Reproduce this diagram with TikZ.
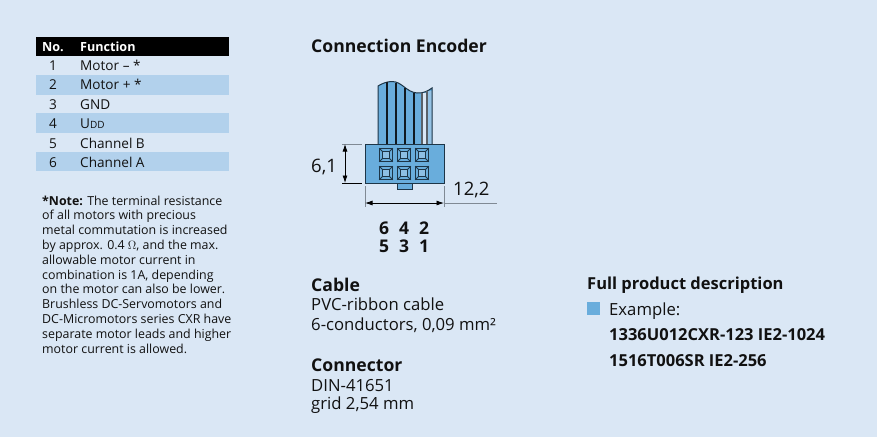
\documentclass[tikz,border=0pt]{standalone}
\usepackage{fontspec}
\setmainfont{Open Sans}
\usetikzlibrary{arrows.meta}
\definecolor{bgc}{HTML}{DAE7F5}
\definecolor{rowc}{HTML}{B2D1EC}
\definecolor{bodyc}{HTML}{69ADDC}
\definecolor{darkl}{HTML}{1D3547}
\definecolor{txt}{HTML}{111111}
\definecolor{grayl}{HTML}{808A94}
\tikzset{
 lbl/.style={anchor=base west,inner sep=0pt,text=txt,font=\fontsize{13.6}{15}\selectfont},
 num/.style={anchor=base,inner sep=0pt,text=txt,font=\fontsize{13.6}{15}\selectfont},
 hdr/.style={anchor=base west,inner sep=0pt,text=white,font=\fontsize{12.6}{14}\selectfont\bfseries},
 note/.style={anchor=base west,inner sep=0pt,text=txt,font=\fontsize{12.4}{14}\selectfont},
 big/.style={anchor=base west,inner sep=0pt,text=txt,font=\fontsize{16.7}{19}\selectfont},
 bighead/.style={anchor=base west,inner sep=0pt,text=txt,font=\fontsize{17.6}{20}\selectfont\bfseries},
 boldt/.style={anchor=base west,inner sep=0pt,text=txt,font=\fontsize{16.5}{19}\selectfont\bfseries},
 pin/.style={anchor=base,inner sep=0pt,text=txt,font=\fontsize{17.5}{20}\selectfont\bfseries},
 dimt/.style={anchor=base west,inner sep=0pt,text=txt,font=\fontsize{18.5}{21}\selectfont},
 wire/.style={line width=1.2pt,draw=black!85!bodyc},
 dimarrow/.style={line width=.8pt,draw=black,{Latex[length=7.5pt,width=5pt]}-{Latex[length=7.5pt,width=5pt]}},
 ext/.style={line width=1pt,draw=grayl},
 extb/.style={line width=1pt,draw=black},
}
\newcommand{\socket}[2]{%
 \draw[line width=1pt,draw=darkl,fill=bodyc] (#1-6.8,#2-6.8) rectangle (#1+6.8,#2+6.8);
 \draw[line width=1pt,draw=darkl,fill=rowc!50!bodyc] (#1-3.5,#2-3.5) rectangle (#1+3.5,#2+3.5);
 \draw[line width=.8pt,draw=darkl] (#1-6.8,#2-6.8)--(#1-3.5,#2-3.5) (#1+6.8,#2-6.8)--(#1+3.5,#2-3.5) (#1-6.8,#2+6.8)--(#1-3.5,#2+3.5) (#1+6.8,#2+6.8)--(#1+3.5,#2+3.5);
}
\begin{document}
\begin{tikzpicture}[x=1pt,y=-1pt]
\useasboundingbox (0,0) rectangle (877,437);
\fill[bgc] (0,0) rectangle (877,437);
% table
\fill[black] (36,37) rectangle (229,56);
\fill[rowc] (36,75) rectangle (229,95);
\fill[rowc] (36,113) rectangle (229,133);
\fill[rowc] (36,152) rectangle (229,171);
\node[hdr] (hno) at (42,51) {No.};
\node[hdr] (hfn) at (80,51) {Function};
\node[num] (n1) at (53,70) {1};
\node[lbl] (f1) at (80,70) {Motor – *};
\node[num] (n2) at (53,89) {2};
\node[lbl] (f2) at (80,89) {Motor + *};
\node[num] (n3) at (53,109) {3};
\node[lbl] (f3) at (80,109) {GND};
\node[num] (n4) at (53,128) {4};
\node[lbl] (f4) at (80,128) {U\fontsize{10}{11}\selectfont DD};
\node[num] (n5) at (53,148) {5};
\node[lbl] (f5) at (80,148) {Channel B};
\node[num] (n6) at (53,167) {6};
\node[lbl] (f6) at (80,167) {Channel A};
% note
\node[note] (t1) at (42,205) {\textbf{*Note:} The terminal resistance};
\node[note] (t2) at (42,219.8) {of all motors with precious};
\node[note] (t3) at (42,234.6) {metal commutation is increased};
\node[note] (t4) at (42,249.4) {by approx. 0.4 $\Omega$, and the max.};
\node[note] (t5) at (42,264.2) {allowable motor current in};
\node[note] (t6) at (42,279) {combination is 1A, depending};
\node[note] (t7) at (42,293.8) {on the motor can also be lower.};
\node[note] (t8) at (42,308.6) {Brushless DC-Servomotors and};
\node[note] (t9) at (42,323.4) {DC-Micromotors series CXR have};
\node[note] (t10) at (42,338.2) {separate motor leads and higher};
\node[note] (t11) at (42,353) {motor current is allowed.};
% headings
\node[bighead] (title) at (311,52) {Connection Encoder};
% cable
\fill[bodyc] (378,144) -- (378,86) .. controls (382,83.5) and (387,81.5) .. (392,81.5) .. controls (402,81.5) and (406,92) .. (417,93) .. controls (423,93.5) and (428,91) .. (432,88) -- (432,144) -- cycle;
\fill[rowc!60!bodyc] (427,91) rectangle (432,144);
\fill[bgc] (422,93) rectangle (427,144);
\draw[line width=1pt,draw=darkl] (378,144) -- (378,86) .. controls (382,83.5) and (387,81.5) .. (392,81.5) .. controls (402,81.5) and (406,92) .. (417,93) .. controls (423,93.5) and (428,91) .. (432,88) -- (432,144);
\foreach \xx/\yy in {387/82,396/83,405/88,414/93}{\draw[wire] (\xx,\yy) -- (\xx,144);}
\foreach \xx/\yy in {422/93,427/91}{\draw[line width=1.1pt,draw=grayl!70!black] (\xx,\yy) -- (\xx,144);}
% connector
\draw[line width=1pt,draw=darkl,fill=bodyc] (397,183) rectangle (412,189);
\node[draw=darkl,line width=1pt,fill=bodyc,minimum width=79pt,minimum height=39pt,inner sep=0pt,anchor=north west] (body) at (365,144) {};
\socket{386}{155}\socket{404}{155}\socket{422}{155}
\socket{386}{173}\socket{404}{173}\socket{422}{173}
% dimensions
\coordinate (vt) at (345,144); \coordinate (vb) at (345,183);
\coordinate (etl) at (342,144); \coordinate (etr) at (362,144);
\coordinate (ebl) at (342,183); \coordinate (ebr) at (362,183);
\draw[ext] (etl) -- (etr);
\draw[extb] (ebl) -- (ebr);
\draw[dimarrow] (vt) -- (vb);
\coordinate (hl) at (365,203); \coordinate (hr) at (444,203); \coordinate (hend) at (497,203);
\coordinate (l1) at (365,186); \coordinate (l2) at (365,207);
\coordinate (r1) at (444,186); \coordinate (r2) at (444,207);
\draw[ext] (l1) -- (l2);
\draw[ext] (r1) -- (r2);
\draw[ext] (hr) -- (hend);
\draw[dimarrow] (hl) -- (hr);
\node[dimt] (d61) at (311,172) {6,1};
\node[dimt] (d122) at (453,195) {12,2};
% pins
\node[pin] (p6) at (384,234) {6};
\node[pin] (p4) at (404,234) {4};
\node[pin] (p2) at (424,234) {2};
\node[pin] (p5) at (384,252) {5};
\node[pin] (p3) at (404,252) {3};
\node[pin] (p1) at (424,252) {1};
% cable text
\node[bighead] (cab) at (311,291) {Cable};
\node[big] (cab1) at (311,310) {PVC-ribbon cable};
\node[big] (cab2) at (311,330) {6-conductors, 0,09 mm²};
\node[bighead] (con) at (311,371) {Connector};
\node[big] (con1) at (311,391) {DIN-41651};
\node[big] (con2) at (311,409) {grid 2,54 mm};
% product
\node[boldt] (fp) at (587,289) {Full product description};
\fill[bodyc] (587,302) rectangle (600,315);
\node[big] (ex) at (609,315) {Example:};
\node[boldt] (e1) at (609,340) {1336U012CXR-123 IE2-1024};
\node[boldt] (e2) at (609,366) {1516T006SR IE2-256};
\end{tikzpicture}
\end{document}
